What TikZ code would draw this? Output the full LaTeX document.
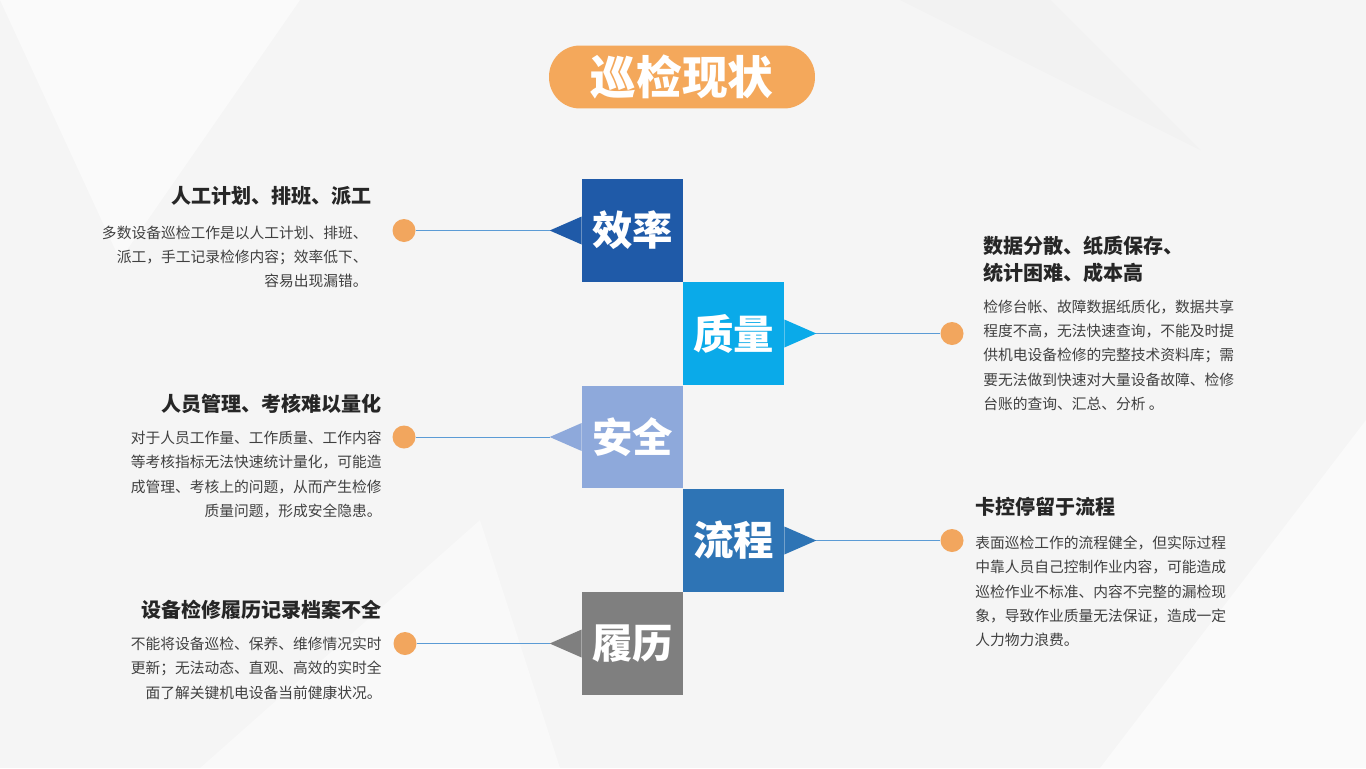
\documentclass[tikz,border=0pt]{standalone}
\usepackage{fontspec}
\setmainfont{Noto Sans CJK SC}
\usetikzlibrary{positioning,calc}
\definecolor{pillorange}{HTML}{F4A85B}
\definecolor{dotorange}{HTML}{F2A65E}
\definecolor{effblue}{HTML}{1F5AA8}
\definecolor{qualblue}{HTML}{0AAAE9}
\definecolor{safeblue}{HTML}{8EA9DB}
\definecolor{flowblue}{HTML}{2E74B5}
\definecolor{histgray}{HTML}{7F7F7F}
\definecolor{linkblue}{HTML}{5B9BD5}
\tikzstyle{block} = [minimum width=2.02cm,minimum height=2.06cm,inner sep=0pt,text=white,font=\fontsize{23}{26}\selectfont\bfseries]
\tikzstyle{dot} = [circle,fill=dotorange,minimum size=0.46cm,inner sep=0pt]
\tikzstyle{link} = [linkblue,line width=0.5pt]
\tikzstyle{head} = [font=\fontsize{11.4}{15}\selectfont\bfseries,text=black!85,inner sep=0pt]
\tikzstyle{body} = [font=\fontsize{8.4}{13.7}\selectfont,text=black!75,inner sep=0pt]
\begin{document}
\begin{tikzpicture}[x=0.02cm,y=-0.02cm]
\fill[gray!8] (0,0) rectangle (1366,768);
\fill[white,opacity=0.5] (0,0) -- (300,0) -- (120,260) -- cycle;
\fill[white,opacity=0.5] (1366,420) -- (1366,768) -- (1100,768) -- cycle;
\fill[white,opacity=0.4] (200,768) -- (480,520) -- (560,768) -- cycle;
\fill[gray!12,opacity=0.6] (900,0) -- (1200,150) -- (1050,0) -- cycle;
\useasboundingbox (0,0) rectangle (1366,768);
% title
\node (title)[fill=pillorange,rounded corners=0.62cm,minimum width=5.32cm,minimum height=1.26cm,text=white,font=\fontsize{26}{30}\selectfont\bfseries] at (682,77) {巡检现状};
% blocks
\node (eff)[block,fill=effblue]   at (632.5,230.5) {效率};
\node (qual)[block,fill=qualblue] at (733.5,333.5) {质量};
\node (safe)[block,fill=safeblue] at (632.5,437) {安全};
\node (flow)[block,fill=flowblue] at (733.5,540.5) {流程};
\node (hist)[block,fill=histgray] at (632.5,643.5) {履历};
% pointers
\fill[effblue]  (eff.west)++(0,-14) -- ++(-32,14) coordinate (effTip) -- ++(32,14) -- cycle;
\fill[qualblue] (qual.east)++(0,-14) -- ++(32,14) coordinate (qualTip) -- ++(-32,14) -- cycle;
\fill[safeblue] (safe.west)++(0,-14) -- ++(-32,14) coordinate (safeTip) -- ++(32,14) -- cycle;
\fill[flowblue] (flow.east)++(0,-14) -- ++(32,14) coordinate (flowTip) -- ++(-32,14) -- cycle;
\fill[histgray] (hist.west)++(0,-14) -- ++(-32,14) coordinate (histTip) -- ++(32,14) -- cycle;
% dots
\node (d1)[dot] at (404,230.5) {};
\node (d2)[dot] at (952,333.5) {};
\node (d3)[dot] at (404,437) {};
\node (d4)[dot] at (952,540.5) {};
\node (d5)[dot] at (405,643.5) {};
\draw[link] (d1) -- (effTip);
\draw[link] (d2) -- (qualTip);
\draw[link] (d3) -- (safeTip);
\draw[link] (d4) -- (flowTip);
\draw[link] (d5) -- (histTip);
% left texts
\node (h1)[head,anchor=east] at (372,196) {人工计划、排班、派工};
\node (b1)[body,anchor=north east,align=right] at (368,226) {多数设备巡检工作是以人工计划、排班、\\派工，手工记录检修内容；效率低下、\\容易出现漏错。};
\node (h3)[head,anchor=east] at (382,404) {人员管理、考核难以量化};
\node (b3)[body,anchor=north east,align=right] at (382,431) {对于人员工作量、工作质量、工作内容\\等考核指标无法快速统计量化，可能造\\成管理、考核上的问题，从而产生检修\\质量问题，形成安全隐患。};
\node (h5)[head,anchor=east] at (382,610) {设备检修履历记录档案不全};
\node (b5)[body,anchor=north east,align=right] at (382,637) {不能将设备巡检、保养、维修情况实时\\更新；无法动态、直观、高效的实时全\\面了解关键机电设备当前健康状况。};
% right texts
\node (h2)[head,anchor=north west,align=left] at (983,236) {数据分散、纸质保存、\\统计困难、成本高};
\node (b2)[body,anchor=north west,align=left] at (983,300) {检修台帐、故障数据纸质化，数据共享\\程度不高，无法快速查询，不能及时提\\供机电设备检修的完整技术资料库；需\\要无法做到快速对大量设备故障、检修\\台账的查询、汇总、分析 。};
\node (h4)[head,anchor=west] at (975,507) {卡控停留于流程};
\node (b4)[body,anchor=north west,align=left] at (975,536) {表面巡检工作的流程健全，但实际过程\\中靠人员自己控制作业内容，可能造成\\巡检作业不标准、内容不完整的漏检现\\象，导致作业质量无法保证，造成一定\\人力物力浪费。};
\end{tikzpicture}
\end{document}
